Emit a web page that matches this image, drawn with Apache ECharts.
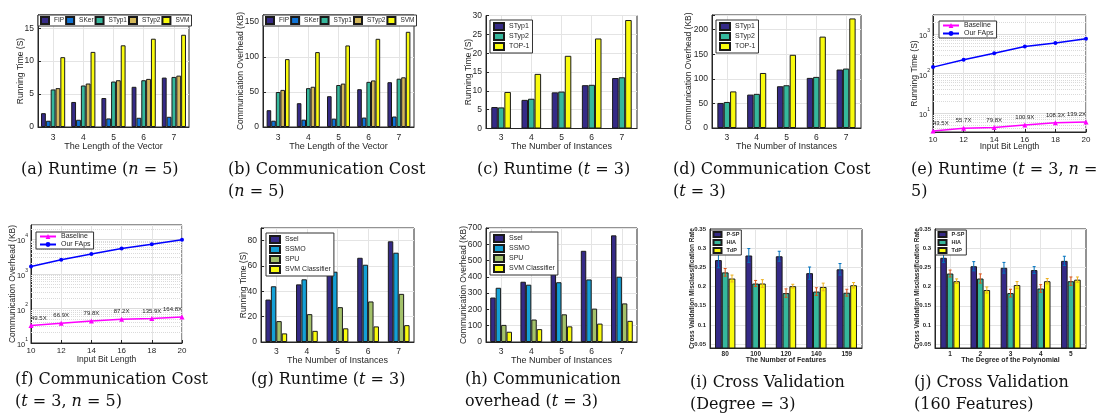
<!DOCTYPE html>
<html>
<head>
<meta charset="utf-8">
<script src="https://cdn.jsdelivr.net/npm/echarts@6/dist/echarts.min.js"></script>
<style>
  body { margin: 0; background: #fff; width: 1117px; height: 413px; overflow: hidden; position: relative; }
  .p { position: absolute; }
</style>
</head>
<body>
<div id="pa" class="p" style="left:0;top:0;width:225px;height:205px"></div>
<div id="pb" class="p" style="left:225px;top:0;width:225px;height:205px"></div>
<div id="pc" class="p" style="left:450px;top:0;width:220px;height:205px"></div>
<div id="pd" class="p" style="left:670px;top:0;width:220px;height:205px"></div>
<div id="pe" class="p" style="left:890px;top:0;width:227px;height:205px"></div>
<div id="pf" class="p" style="left:0;top:205px;width:225px;height:208px"></div>
<div id="pg" class="p" style="left:225px;top:205px;width:225px;height:208px"></div>
<div id="ph" class="p" style="left:450px;top:205px;width:220px;height:208px"></div>
<div id="pi" class="p" style="left:670px;top:205px;width:220px;height:208px"></div>
<div id="pj" class="p" style="left:890px;top:205px;width:227px;height:208px"></div>
<script>
// ---- data ----
const vecLen = ['3', '4', '5', '6', '7'];
const instances = ['3', '4', '5', '6', '7'];
const bitLen = [10, 12, 14, 16, 18, 20];
const features = ['80', '100', '120', '140', '159'];
const degrees = ['1', '2', '3', '4', '5'];

// (a) runtime, n = 5
const aFIP = [2.1, 3.8, 4.4, 6.1, 7.5];
const aSKer = [0.95, 1.1, 1.3, 1.4, 1.55];
const aSTyp1 = [5.7, 6.3, 6.9, 7.1, 7.6];
const aSTyp2 = [5.9, 6.6, 7.1, 7.3, 7.8];
const aSVM = [10.6, 11.4, 12.4, 13.4, 14.0];

// (b) communication, n = 5
const bFIP = [24, 34, 44, 54, 64];
const bSKer = [9, 10.5, 12, 13.5, 15];
const bSTyp1 = [50, 55.5, 60, 64.5, 69];
const bSTyp2 = [53, 57.5, 62, 66.5, 71];
const bSVM = [97, 107, 116.5, 126, 136];

// (c) runtime, t = 3
const cSTyp1 = [5.7, 7.6, 9.6, 11.5, 13.4];
const cSTyp2 = [5.6, 7.9, 9.8, 11.6, 13.6];
const cTOP1 = [9.7, 14.5, 19.3, 23.9, 28.8];

// (d) communication, t = 3
const dSTyp1 = [51, 68, 85, 102, 119];
const dSTyp2 = [53, 69.5, 87, 104, 121];
const dTOP1 = [74.5, 112, 149, 186, 223];

// (e) runtime vs bit length (log)
const eBase = [3.5, 4.1, 4.3, 5.0, 5.7, 5.9];
const eFAps = [147, 225, 331, 489, 603, 776];
const eRatio = ['43.5X', '55.7X', '79.8X', '100.9X', '108.3X', '139.2X'];

// (f) communication vs bit length (log)
const fBase = [32, 37.4, 43, 49, 51, 57];
const fFAps = [1630, 2550, 3740, 5430, 7240, 9800];
const fRatio = ['49.5X', '66.9X', '79.8X', '87.2X', '135.9X', '164.8X'];

// (g) runtime, t = 3
const gSsel = [33.5, 45.5, 56.5, 66.5, 79.5];
const gSSMO = [44, 49.5, 55.5, 61, 70.5];
const gSPU = [16.5, 22, 27.5, 32, 38];
const gSVM = [6.8, 8.8, 10.8, 12.3, 13.3];

// (h) communication overhead, t = 3
const hSsel = [273, 370, 463, 560, 655];
const hSSMO = [333, 352, 367, 384, 401];
const hSPU = [105, 138, 170, 205, 237];
const hSVM = [63, 79, 96, 113, 130];

// (i) cross validation, degree = 3
const iPSP = [0.269, 0.281, 0.279, 0.235, 0.245];
const iPSPErr = [0.02, 0.018, 0.013, 0.016, 0.015];
const iHIA = [0.237, 0.208, 0.183, 0.187, 0.184];
const iHIAErr = [0.01, 0.008, 0.011, 0.01, 0.009];
const iTdP = [0.221, 0.208, 0.201, 0.199, 0.2035];
const iTdPErr = [0.009, 0.01, 0.005, 0.01, 0.007];

// (j) cross validation, 160 features
const jPSP = [0.275, 0.253, 0.249, 0.243, 0.267];
const jPSPErr = [0.012, 0.012, 0.014, 0.009, 0.012];
const jHIA = [0.234, 0.221, 0.183, 0.195, 0.214];
const jHIAErr = [0.009, 0.012, 0.01, 0.01, 0.011];
const jTdP = [0.214, 0.191, 0.204, 0.214, 0.218];
const jTdPErr = [0.006, 0.008, 0.009, 0.007, 0.007];

// ---- styling helpers ----
const FONT = "'Liberation Sans', Arial, sans-serif";
const SERIF = "'DejaVu Serif', serif";
const INK = '#262626';
const GRIDC = '#e4e4e4';
const NAVY = '#352a87', BLUE = '#0f73d6', TEAL = '#35b79c', TAN = '#d4b85a', YEL = '#f9fb0e';
const CYAN = '#14a0d6', OLIVE = '#a3c16a';

function caption(text, left, top) {
  return {
    text, left, top, padding: 0,
    textStyle: {
      fontFamily: SERIF, fontSize: 16, fontWeight: 'normal', color: '#111', lineHeight: 22,
      rich: { i: { fontFamily: SERIF, fontSize: 16, fontStyle: 'italic', color: '#111', lineHeight: 22 } }
    }
  };
}

function nameStyle(fs, bold) {
  return { fontFamily: FONT, fontSize: fs, color: INK, fontWeight: bold ? 'bold' : 'normal' };
}

function catAxis(cats, name, gap, margin, fs, bold) {
  return {
    type: 'category', data: cats, name, nameLocation: 'middle', nameGap: gap, nameMoveOverlap: false,
    nameTextStyle: nameStyle(fs || 9, bold),
    axisLine: { lineStyle: { color: INK } },
    axisTick: { alignWithLabel: true, inside: true, length: 3, lineStyle: { color: INK } },
    axisLabel: { margin, fontFamily: FONT, fontSize: fs ? fs - 0.5 : 8.5, color: INK, fontWeight: bold ? 'bold' : 'normal' },
    splitLine: { show: true, alignWithLabel: true, lineStyle: { color: GRIDC } }
  };
}

function valAxis(min, max, interval, name, gap) {
  return {
    type: 'value', min, max, interval, name, nameLocation: 'middle', nameGap: gap, nameMoveOverlap: false,
    nameTextStyle: nameStyle(8.5),
    axisLine: { show: true, lineStyle: { color: INK } },
    axisTick: { show: true, inside: true, length: 3, lineStyle: { color: INK } },
    axisLabel: {
      margin: 4, fontFamily: FONT, fontSize: 8.5, color: INK,
      formatter: v => (Math.abs(v / interval - Math.round(v / interval)) < 1e-6 ? String(v) : '')
    },
    splitLine: { lineStyle: { color: GRIDC } }
  };
}

function legendBox(left, top, orient, names, extra) {
  return Object.assign({
    data: names.map(n => ({ name: n, icon: 'rect' })), left, top, orient, z: 10,
    backgroundColor: '#fff', borderColor: '#333', borderWidth: 1, borderRadius: 0,
    padding: [2, 3], itemGap: 1, itemWidth: 10, itemHeight: 7, selectedMode: false,
    textStyle: { fontFamily: FONT, fontSize: 7.5, color: INK }
  }, extra || {});
}

function bars(list, gap) {
  return list.map(s => ({
    type: 'bar', name: s.name, data: s.data, barGap: '0%', barCategoryGap: gap, silent: true,
    itemStyle: { color: s.color, borderColor: '#1a1a1a', borderWidth: 1 }
  }));
}

function errBars(vals, errs, k, n, gapFrac, color) {
  return {
    type: 'custom', silent: true, z: 5,
    data: vals.map((v, i) => [i, v, errs[i]]),
    encode: { x: 0, y: 1 },
    renderItem(params, api) {
      const i = api.value(0), v = api.value(1), e = api.value(2);
      const cw = api.size([1, 0])[0];
      const bw = cw * (1 - gapFrac) / n;
      const cx = api.coord([i, v])[0] + (k - (n - 1) / 2) * bw;
      const yt = api.coord([i, v + e])[1], yb = api.coord([i, v - e])[1];
      const st = { stroke: color, lineWidth: 1 };
      return {
        type: 'group', children: [
          { type: 'line', shape: { x1: cx, y1: yt, x2: cx, y2: yb }, style: st },
          { type: 'line', shape: { x1: cx - 1.5, y1: yt, x2: cx + 1.5, y2: yt }, style: st },
          { type: 'line', shape: { x1: cx - 1.5, y1: yb, x2: cx + 1.5, y2: yb }, style: st }
        ]
      };
    }
  };
}

function frame(left, top, width, height) {
  return { left, top, width, height, show: true, borderColor: INK, borderWidth: 1, backgroundColor: '#fff' };
}

// log-axis minor grid (2..9 x 10^k)
function minorLines(min, max) {
  const out = [];
  for (let d = Math.floor(Math.log10(min)); d <= Math.ceil(Math.log10(max)); d++) {
    for (let m = 2; m <= 9; m++) {
      const v = m * Math.pow(10, d);
      if (v > min && v < max) out.push({ yAxis: v });
    }
  }
  return out;
}

function logAxis(min, max, name, gap) {
  return {
    type: 'log', logBase: 10, min, max, name, nameLocation: 'middle', nameGap: gap, nameMoveOverlap: false,
    nameTextStyle: nameStyle(8.5),
    axisLine: { show: true, lineStyle: { color: INK } },
    axisTick: { show: false },
    axisLabel: {
      margin: 3, color: INK,
      formatter: v => {
        const e = Math.log10(v);
        if (Math.abs(e - Math.round(e)) > 1e-6) return '';
        return '{b|10}{s|' + Math.round(e) + '}';
      },
      rich: {
        b: { fontFamily: FONT, fontSize: 7.5, color: INK, lineHeight: 12, verticalAlign: 'bottom' },
        s: { fontFamily: FONT, fontSize: 5, color: INK, lineHeight: 12, verticalAlign: 'top' }
      }
    },
    splitLine: { lineStyle: { color: '#dcdcdc' } }
  };
}

function linePanel(el, g, ymin, ymax, yName, yGap, xGap, xMargin, base, faps, ratio, leg, cap) {
  const chart = echarts.init(document.getElementById(el));
  const last = bitLen.length - 1;
  chart.setOption({
    animation: false,
    title: cap,
    grid: frame(g[0], g[1], g[2], g[3]),
    legend: {
      data: ['Baseline', 'Our FAps'], left: leg[0], top: leg[1], orient: 'vertical', z: 10,
      backgroundColor: '#fff', borderColor: '#333', borderWidth: 1, borderRadius: 0,
      itemWidth: 16, itemHeight: 6, padding: [1, 3], itemGap: 1, selectedMode: false,
      textStyle: { fontFamily: FONT, fontSize: 7, color: INK }
    },
    xAxis: {
      type: 'value', min: 10, max: 20, interval: 2, name: 'Input Bit Length', nameLocation: 'middle',
      nameGap: xGap, nameMoveOverlap: false,
      nameTextStyle: nameStyle(8.5),
      axisLine: { lineStyle: { color: INK } },
      axisTick: { inside: true, length: 3, lineStyle: { color: INK } },
      axisLabel: { margin: xMargin, fontFamily: FONT, fontSize: 8, color: INK },
      splitLine: { show: true, lineStyle: { color: GRIDC } }
    },
    yAxis: logAxis(ymin, ymax, yName, yGap),
    series: [
      {
        type: 'line', data: [], silent: true, z: 1,
        markLine: {
          silent: true, symbol: 'none', label: { show: false }, animation: false, z: 1,
          lineStyle: { color: '#dadada', type: 'dotted', width: 1 },
          data: minorLines(ymin, ymax)
        }
      },
      {
        type: 'line', name: 'Baseline', silent: true,
        data: bitLen.map((x, i) => ({
          value: [x, base[i]],
          label: { align: i === 0 ? 'left' : (i === last ? 'right' : 'center') }
        })),
        symbol: 'triangle', symbolSize: 5,
        lineStyle: { color: '#ff00ff', width: 1.5 }, itemStyle: { color: '#ff00ff' },
        label: {
          show: true, position: 'top', distance: 2, fontFamily: FONT, fontSize: 6, color: INK,
          formatter: p => ratio[p.dataIndex]
        }
      },
      {
        type: 'line', name: 'Our FAps', silent: true,
        data: bitLen.map((x, i) => [x, faps[i]]),
        symbol: 'circle', symbolSize: 4,
        lineStyle: { color: '#0000ff', width: 1.5 }, itemStyle: { color: '#0000ff' }
      }
    ]
  });
}

const wideLegend = { padding: [1, 2], itemGap: 1, itemWidth: 8, itemHeight: 7, textStyle: { fontFamily: FONT, fontSize: 6.5, color: INK } };

// ---- (a) ----
echarts.init(document.getElementById('pa')).setOption({
  animation: false,
  title: caption('(a) Runtime ({i|n} = 5)', 21, 159),
  grid: frame(38, 15, 151, 112),
  legend: legendBox(38, 15, 'horizontal', ['FIP', 'SKer', 'STyp1', 'STyp2', 'SVM'], wideLegend),
  xAxis: catAxis(vecLen, 'The Length of the Vector', 15, 6),
  yAxis: valAxis(0, 17, 5, 'Running Time (S)', 13),
  series: bars([
    { name: 'FIP', data: aFIP, color: NAVY },
    { name: 'SKer', data: aSKer, color: BLUE },
    { name: 'STyp1', data: aSTyp1, color: TEAL },
    { name: 'STyp2', data: aSTyp2, color: TAN },
    { name: 'SVM', data: aSVM, color: YEL }
  ], '20%')
});

// ---- (b) ----
echarts.init(document.getElementById('pb')).setOption({
  animation: false,
  title: caption('(b) Communication Cost\n({i|n} = 5)', 3, 159),
  grid: frame(38, 15, 151, 112),
  legend: legendBox(38, 15, 'horizontal', ['FIP', 'SKer', 'STyp1', 'STyp2', 'SVM'], wideLegend),
  xAxis: catAxis(vecLen, 'The Length of the Vector', 15, 6),
  yAxis: valAxis(0, 160, 50, 'Communication Overhead (KB)', 18),
  series: bars([
    { name: 'FIP', data: bFIP, color: NAVY },
    { name: 'SKer', data: bSKer, color: BLUE },
    { name: 'STyp1', data: bSTyp1, color: TEAL },
    { name: 'STyp2', data: bSTyp2, color: TAN },
    { name: 'SVM', data: bSVM, color: YEL }
  ], '24%')
});

// ---- (c) ----
echarts.init(document.getElementById('pc')).setOption({
  animation: false,
  title: caption('(c) Runtime ({i|t} = 3)', 27, 159),
  grid: frame(36, 15.5, 151, 113),
  legend: legendBox(40, 20, 'vertical', ['STyp1', 'STyp2', 'TOP-1'], { textStyle: { fontFamily: FONT, fontSize: 7, color: INK } }),
  xAxis: catAxis(instances, 'The Number of Instances', 14, 5),
  yAxis: valAxis(0, 30, 5, 'Running Time (S)', 13),
  series: bars([
    { name: 'STyp1', data: cSTyp1, color: NAVY },
    { name: 'STyp2', data: cSTyp2, color: TEAL },
    { name: 'TOP-1', data: cTOP1, color: YEL }
  ], '35%')
});

// ---- (d) ----
echarts.init(document.getElementById('pd')).setOption({
  animation: false,
  title: caption('(d) Communication Cost\n({i|t} = 3)', 3, 159),
  grid: frame(42, 15, 149, 113),
  legend: legendBox(46, 20, 'vertical', ['STyp1', 'STyp2', 'TOP-1'], { textStyle: { fontFamily: FONT, fontSize: 7, color: INK } }),
  xAxis: catAxis(instances, 'The Number of Instances', 14, 5),
  yAxis: valAxis(0, 230, 50, 'Communication Overhead (KB)', 19),
  series: bars([
    { name: 'STyp1', data: dSTyp1, color: NAVY },
    { name: 'STyp2', data: dSTyp2, color: TEAL },
    { name: 'TOP-1', data: dTOP1, color: YEL }
  ], '36%')
});

// ---- (e) ----
linePanel('pe', [43, 15, 153, 117], 3.3, 3100, 'Running Time (S)', 14, 10, 4,
  eBase, eFAps, eRatio, [49, 21],
  caption('(e) Runtime ({i|t} = 3, {i|n} =\n5)', 21, 159));

// ---- (f) ----
linePanel('pf', [31, 20, 151, 118], 10, 26000, 'Communication Overhead (KB)', 14, 12, 4,
  fBase, fFAps, fRatio, [36, 27],
  caption('(f) Communication Cost\n({i|t} = 3, {i|n} = 5)', 15, 164));

// ---- (g) ----
echarts.init(document.getElementById('pg')).setOption({
  animation: false,
  title: caption('(g) Runtime ({i|t} = 3)', 26, 164),
  grid: frame(36, 23, 153, 114),
  legend: legendBox(41, 28, 'vertical', ['Ssel', 'SSMO', 'SPU', 'SVM Classifier'], { textStyle: { fontFamily: FONT, fontSize: 7, color: INK } }),
  xAxis: catAxis(instances, 'The Number of Instances', 14, 5),
  yAxis: valAxis(0, 90, 20, 'Running Time (S)', 13),
  series: bars([
    { name: 'Ssel', data: gSsel, color: NAVY },
    { name: 'SSMO', data: gSSMO, color: CYAN },
    { name: 'SPU', data: gSPU, color: OLIVE },
    { name: 'SVM Classifier', data: gSVM, color: YEL }
  ], '29%')
});

// ---- (h) ----
echarts.init(document.getElementById('ph')).setOption({
  animation: false,
  title: caption('(h) Communication\noverhead ({i|t} = 3)', 15, 164),
  grid: frame(36, 23, 151, 114),
  legend: legendBox(40, 27, 'vertical', ['Ssel', 'SSMO', 'SPU', 'SVM Classifier'], { textStyle: { fontFamily: FONT, fontSize: 7, color: INK } }),
  xAxis: catAxis(instances, 'The Number of Instances', 14, 5),
  yAxis: valAxis(0, 700, 100, 'Communication Overhead (KB)', 18),
  series: bars([
    { name: 'Ssel', data: hSsel, color: NAVY },
    { name: 'SSMO', data: hSSMO, color: CYAN },
    { name: 'SPU', data: hSPU, color: OLIVE },
    { name: 'SVM Classifier', data: hSVM, color: YEL }
  ], '28%')
});

// ---- (i), (j): cross validation with error bars ----
function cvPanel(el, g, cats, xName, psp, pspE, hia, hiaE, tdp, tdpE, gapFrac, cap) {
  const pct = Math.round(gapFrac * 100) + '%';
  const grid05 = [];
  for (let k = 1; k <= 7; k++) grid05.push({ yAxis: k * 0.05 });
  const series = bars([
    { name: 'P-SP', data: psp, color: NAVY },
    { name: 'HIA', data: hia, color: TEAL },
    { name: 'TdP', data: tdp, color: YEL }
  ], pct);
  series[0].markLine = {
    silent: true, symbol: 'none', label: { show: false }, animation: false, z: 0,
    lineStyle: { color: GRIDC, type: 'solid', width: 1 }, data: grid05
  };
  series.push(errBars(psp, pspE, 0, 3, gapFrac, '#0072bd'));
  series.push(errBars(hia, hiaE, 1, 3, gapFrac, '#d95319'));
  series.push(errBars(tdp, tdpE, 2, 3, gapFrac, '#edb120'));
  echarts.init(document.getElementById(el)).setOption({
    animation: false,
    title: cap,
    grid: frame(g[0], g[1], g[2], g[3]),
    legend: legendBox(g[0] + 0.5, g[1] + 1, 'vertical', ['P-SP', 'HIA', 'TdP'], {
      padding: [1, 2], itemGap: 1, itemWidth: 8, itemHeight: 5,
      textStyle: { fontFamily: FONT, fontSize: 5.5, color: INK, fontWeight: 'bold' }
    }),
    xAxis: catAxis(cats, xName, 8.5, 3, 7, true),
    yAxis: {
      type: 'value', min: 0.04, max: 0.35, interval: 0.01,
      name: 'Cross Validation Misclassification Rate', nameLocation: 'middle', nameGap: 14, nameMoveOverlap: false,
      nameTextStyle: nameStyle(6.5, true),
      axisLine: { show: true, lineStyle: { color: INK } },
      axisTick: { show: false },
      axisLabel: {
        margin: 4, fontFamily: FONT, fontSize: 6, color: INK, fontWeight: 'bold',
        formatter: v => {
          const c = Math.round(v * 100);
          return c % 5 === 0 ? String(c / 100) : '';
        }
      },
      splitLine: { show: false }
    },
    series
  });
}

cvPanel('pi', [40, 24, 152, 119], features, 'The Number of Features',
  iPSP, iPSPErr, iHIA, iHIAErr, iTdP, iTdPErr, 0.33,
  caption('(i) Cross Validation\n(Degree = 3)', 20, 167));

cvPanel('pj', [45, 24, 151, 119], degrees, 'The Degree of the Polynomial',
  jPSP, jPSPErr, jHIA, jHIAErr, jTdP, jTdPErr, 0.35,
  caption('(j) Cross Validation\n(160 Features)', 24, 167));
</script>
</body>
</html>
